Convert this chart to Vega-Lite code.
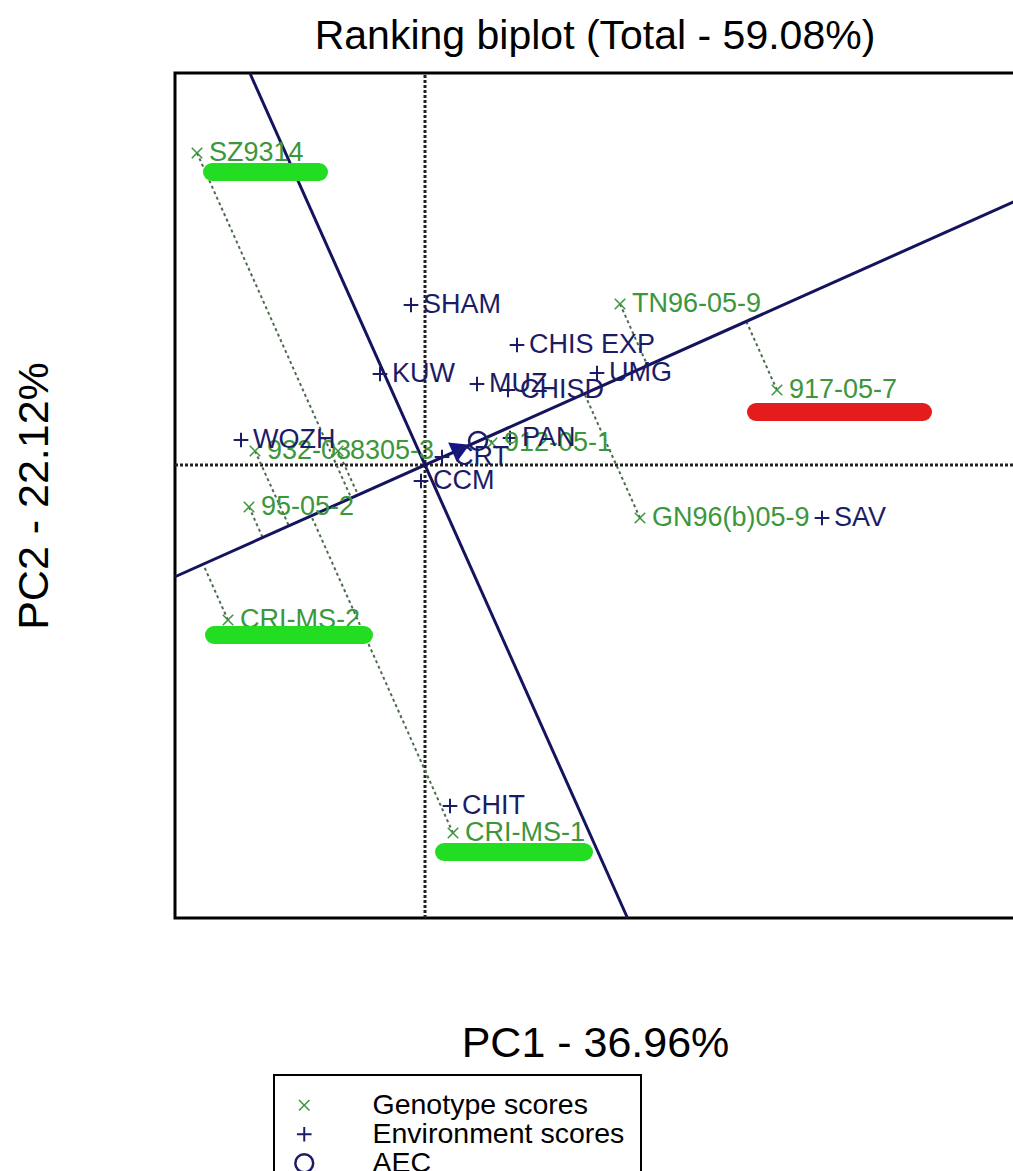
{
  "$schema": "https://vega.github.io/schema/vega-lite/v6.json",
  "autosize": {"type": "none"},
  "padding": {"left": 175, "top": 73, "right": 0, "bottom": 253},
  "width": 840,
  "height": 845,
  "background": "white",
  "title": {
    "text": "Ranking biplot (Total - 59.08%)",
    "font": "Liberation Sans",
    "fontSize": 41,
    "fontWeight": "normal",
    "color": "black",
    "anchor": "middle",
    "frame": "group",
    "offset": 14
  },
  "config": {
    "view": {"stroke": "black", "strokeWidth": 3},
    "legend": {"strokeWidth": 2}
  },
  "datasets": {
    "axes0": [
      {"x": 0, "y": -4.53, "x2": 0, "y2": 3.92},
      {"x": -2.5, "y": 0, "x2": 5.9, "y2": 0}
    ],
    "aec": [
      {"x": -2.5, "y": -1.1175, "x2": 5.9, "y2": 2.637},
      {"x": -1.752, "y": 3.92, "x2": 2.025, "y2": -4.53}
    ],
    "arrow": [{"x": 0.36, "y": 0.165}],
    "genotypes": [
      {"name": "SZ9314", "x": -2.28, "y": 3.12, "px": -0.7377, "py": -0.3298},
      {"name": "TN96-05-9", "x": 1.95, "y": 1.61, "px": 2.2249, "py": 0.9946},
      {"name": "917-05-7", "x": 3.52, "y": 0.75, "px": 3.2129, "py": 1.4363},
      {"name": "912-05-1", "x": 0.67, "y": 0.22, "px": 0.6403, "py": 0.2862},
      {"name": "GN96(b)05-9", "x": 2.15, "y": -0.53, "px": 1.5943, "py": 0.7127},
      {"name": "95-05-2", "x": -1.76, "y": -0.42, "px": -1.6232, "py": -0.7256},
      {"name": "CRI-MS-2", "x": -1.97, "y": -1.55, "px": -2.2192, "py": -0.9921},
      {"name": "CRI-MS-1", "x": 0.28, "y": -3.68, "px": -1.1377, "py": -0.5086},
      {"name": "932-03", "x": -1.70, "y": 0.14, "px": -1.3609, "py": -0.6084},
      {"name": "8305-3", "x": -0.87, "y": 0.14, "px": -0.6692, "py": -0.2991}
    ],
    "points": [
      {"name": "SZ9314", "type": "Genotype scores", "x": -2.28, "y": 3.12},
      {"name": "TN96-05-9", "type": "Genotype scores", "x": 1.95, "y": 1.61},
      {"name": "917-05-7", "type": "Genotype scores", "x": 3.52, "y": 0.75},
      {"name": "912-05-1", "type": "Genotype scores", "x": 0.67, "y": 0.22},
      {"name": "GN96(b)05-9", "type": "Genotype scores", "x": 2.15, "y": -0.53},
      {"name": "95-05-2", "type": "Genotype scores", "x": -1.76, "y": -0.42},
      {"name": "CRI-MS-2", "type": "Genotype scores", "x": -1.97, "y": -1.55},
      {"name": "CRI-MS-1", "type": "Genotype scores", "x": 0.28, "y": -3.68},
      {"name": "932-03", "type": "Genotype scores", "x": -1.70, "y": 0.14},
      {"name": "8305-3", "type": "Genotype scores", "x": -0.87, "y": 0.14},
      {"name": "SHAM", "type": "Environment scores", "x": -0.14, "y": 1.60},
      {"name": "CHIS EXP", "type": "Environment scores", "x": 0.92, "y": 1.20},
      {"name": "KUW", "type": "Environment scores", "x": -0.45, "y": 0.91},
      {"name": "MUZ", "type": "Environment scores", "x": 0.52, "y": 0.81},
      {"name": "CHISD", "type": "Environment scores", "x": 0.83, "y": 0.75},
      {"name": "UMG", "type": "Environment scores", "x": 1.72, "y": 0.92},
      {"name": "WOZH", "type": "Environment scores", "x": -1.84, "y": 0.25},
      {"name": "PAN", "type": "Environment scores", "x": 0.85, "y": 0.27},
      {"name": "CCM", "type": "Environment scores", "x": -0.04, "y": -0.16},
      {"name": "CRT", "type": "Environment scores", "x": 0.17, "y": 0.08},
      {"name": "CHIT", "type": "Environment scores", "x": 0.25, "y": -3.41},
      {"name": "SAV", "type": "Environment scores", "x": 3.97, "y": -0.53},
      {"name": "", "type": "AEC", "x": 0.53, "y": 0.24}
    ],
    "highlights": [
      {"label": "SZ9314", "x": -2.13, "x2": -1.06, "y": 2.93},
      {"label": "CRI-MS-2", "x": -2.11, "x2": -0.61, "y": -1.70},
      {"label": "CRI-MS-1", "x": 0.19, "x2": 1.59, "y": -3.87},
      {"label": "917-05-7", "x": 3.31, "x2": 4.98, "y": 0.53}
    ]
  },
  "encoding": {
    "x": {
      "field": "x",
      "type": "quantitative",
      "scale": {"domain": [-2.5, 5.9], "nice": false, "zero": false},
      "axis": {
        "title": "PC1 - 36.96%",
        "labels": false, "ticks": false, "domain": false, "grid": false,
        "titleFont": "Liberation Sans", "titleFontSize": 43, "titleFontWeight": "normal",
        "titleColor": "black", "titlePadding": 104
      }
    },
    "y": {
      "field": "y",
      "type": "quantitative",
      "scale": {"domain": [-4.53, 3.92], "nice": false, "zero": false},
      "axis": {
        "title": "PC2 - 22.12%",
        "labels": false, "ticks": false, "domain": false, "grid": false,
        "titleFont": "Liberation Sans", "titleFontSize": 43, "titleFontWeight": "normal",
        "titleColor": "black", "titlePadding": 119
      }
    }
  },
  "layer": [
    {
      "data": {"name": "axes0"},
      "mark": {"type": "rule", "color": "#222222", "strokeWidth": 3, "strokeDash": [3, 2]},
      "encoding": {"x2": {"field": "x2"}, "y2": {"field": "y2"}}
    },
    {
      "data": {"name": "genotypes"},
      "mark": {"type": "rule", "color": "#4d6b4d", "strokeWidth": 2, "strokeDash": [3, 3]},
      "encoding": {"x2": {"field": "px"}, "y2": {"field": "py"}}
    },
    {
      "data": {"name": "aec"},
      "mark": {"type": "rule", "color": "#14145e", "strokeWidth": 3},
      "encoding": {"x2": {"field": "x2"}, "y2": {"field": "y2"}}
    },
    {
      "data": {"name": "arrow"},
      "mark": {"type": "point", "shape": "triangle-right", "filled": true, "color": "#14148a", "size": 460, "angle": -24, "opacity": 1}
    },
    {
      "data": {"name": "points"},
      "mark": {"type": "point", "filled": false, "opacity": 1},
      "encoding": {
        "color": {
          "field": "type", "type": "nominal",
          "scale": {"domain": ["Genotype scores", "Environment scores", "AEC"], "range": ["#3c963c", "#1c1c66", "#1c1c66"]},
          "legend": {
            "title": null, "orient": "none", "direction": "vertical",
            "legendX": 99, "legendY": 1002,
            "strokeColor": "black", "padding": 16,
            "labelFont": "Liberation Sans", "labelFontSize": 28.5, "labelColor": "black",
            "labelLimit": 600,
            "labelOffset": 54, "rowPadding": 0, "symbolStrokeWidth": 2
          }
        },
        "shape": {
          "field": "type", "type": "nominal",
          "scale": {"domain": ["Genotype scores", "Environment scores", "AEC"], "range": ["M-1,-1L1,1M1,-1L-1,1", "M-1,0L1,0M0,-1L0,1", "circle"]}
        },
        "size": {
          "field": "type", "type": "nominal",
          "scale": {"domain": ["Genotype scores", "Environment scores", "AEC"], "range": [110, 320, 90]}
        },
        "strokeWidth": {
          "field": "type", "type": "nominal",
          "scale": {"domain": ["Genotype scores", "Environment scores", "AEC"], "range": [1.5, 2.5, 1.5]},
          "legend": null
        }
      }
    },
    {
      "data": {"name": "points"},
      "transform": [{"filter": "datum.type !== 'AEC'"}],
      "mark": {"type": "text", "align": "left", "baseline": "middle", "dx": 12, "font": "Liberation Sans", "fontSize": 27},
      "encoding": {
        "text": {"field": "name"},
        "color": {"condition": {"test": "datum.type === 'Genotype scores'", "value": "#3c963c"}, "value": "#1c1c66"}
      }
    },
    {
      "data": {"name": "highlights"},
      "mark": {"type": "rule", "strokeWidth": 18, "strokeCap": "round", "opacity": 1},
      "encoding": {
        "x2": {"field": "x2"},
        "color": {"condition": {"test": "datum.label === '917-05-7'", "value": "#e51c1c"}, "value": "#22dd22"}
      }
    }
  ]
}
